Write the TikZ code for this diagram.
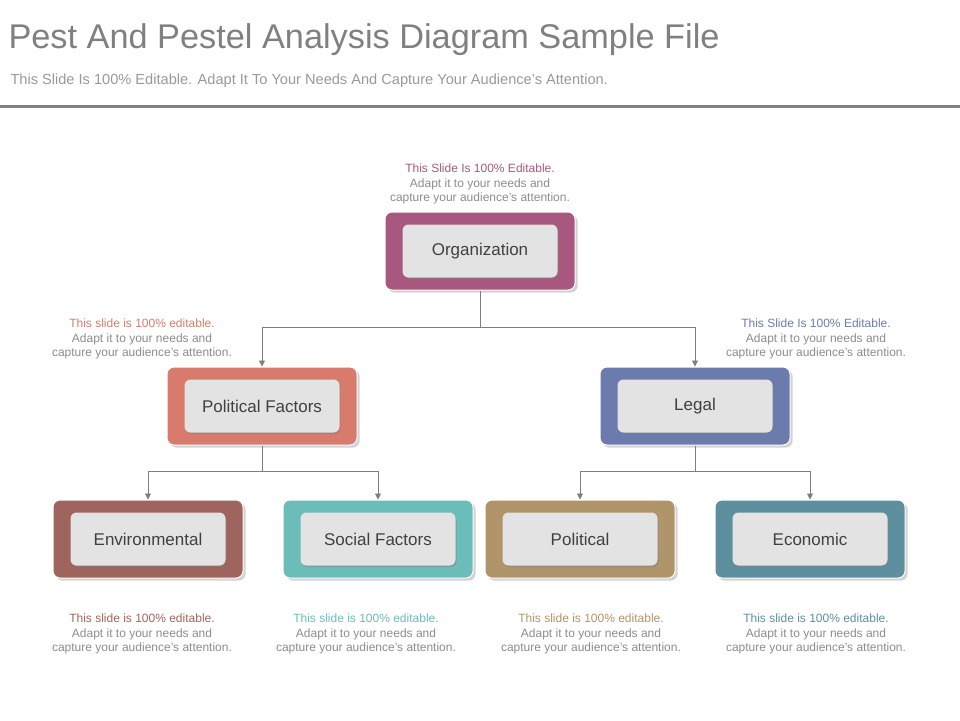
\documentclass[tikz,border=0pt]{standalone}
\usepackage{fontspec}
\setmainfont{Liberation Sans}
\usetikzlibrary{positioning,shadows,arrows.meta}
\definecolor{orgcol}{HTML}{A8577E}
\definecolor{polfcol}{HTML}{D97B6C}
\definecolor{legcol}{HTML}{6B7BAE}
\definecolor{envcol}{HTML}{A0645E}
\definecolor{soccol}{HTML}{6BBDBA}
\definecolor{polcol}{HTML}{B0946A}
\definecolor{ecocol}{HTML}{5E8F9E}
\definecolor{txtgray}{HTML}{8C8C8C}
\tikzset{
  >={Triangle[width=6pt,length=6pt]},
  line/.style={draw, txtgray!90!black, line width=0.8pt},
  arrline/.style={line, ->},
  outerbox/.style={draw=white, line width=1pt, rounded corners=7pt, fill=#1,
    minimum width=190pt, minimum height=78pt, drop shadow={opacity=0.35}},
  innerbox/.style={rounded corners=6pt, fill=gray!22, minimum width=155pt,
    minimum height=53pt, font=\fontsize{17}{20}\selectfont, text=black!75,
    drop shadow={shadow xshift=1pt,shadow yshift=-1.5pt,opacity=0.5}},
  note/.style={align=center, font=\fontsize{12}{14.5}\selectfont, text=txtgray}
}
\newcommand{\notetext}[2]{\textcolor{#1}{#2}\\Adapt it to your needs and\\capture your audience's attention.}
\begin{document}
\begin{tikzpicture}[x=1pt,y=-1pt]
  \useasboundingbox (0,0) rectangle (960,720);
  % title
  \node[anchor=west, text=gray, font=\fontsize{34.3}{40}\selectfont] (title) at (5,40) {Pest And Pestel Analysis Diagram Sample File};
  \node[anchor=west, text=gray!80, font=\fontsize{14.6}{17}\selectfont] (subtitle) at (7,81) {This Slide Is 100\% Editable. Adapt It To Your Needs And Capture Your Audience's Attention.};
  \draw[gray, line width=3pt] (0,106) -- (960,106);
  % boxes
  \node[outerbox=orgcol] (org) at (480,251) {};
  \node[innerbox] (orgin) at (org) {Organization};
  \node[outerbox=polfcol] (polf) at (262,406) {};
  \node[innerbox] (polfin) at (polf) {Political Factors};
  \node[outerbox=legcol] (leg) at (695,406) {};
  \node[innerbox] (legin) at (leg) {Legal};
  \node[outerbox=envcol] (env) at (148,539) {};
  \node[innerbox] (envin) at (env) {Environmental};
  \node[outerbox=soccol] (soc) at (378,539) {};
  \node[innerbox] (socin) at (soc) {Social Factors};
  \node[outerbox=polcol] (pol) at (580,539) {};
  \node[innerbox] (polin) at (pol) {Political};
  \node[outerbox=ecocol] (eco) at (810,539) {};
  \node[innerbox] (ecoin) at (eco) {Economic};
  % connectors
  \coordinate (orgj) at (480,327);
  \coordinate (polfj) at (262,471);
  \coordinate (legj) at (695,471);
  \draw[line] (org.south) -- (orgj);
  \draw[arrline] (orgj) -| (polf.north);
  \draw[arrline] (orgj) -| (leg.north);
  \draw[line] (polf.south) -- (polfj);
  \draw[arrline] (polfj) -| (env.north);
  \draw[arrline] (polfj) -| (soc.north);
  \draw[line] (leg.south) -- (legj);
  \draw[arrline] (legj) -| (pol.north);
  \draw[arrline] (legj) -| (eco.north);
  % notes
  \node[note] (orgnote) at (480,184) {\notetext{orgcol}{This Slide Is 100\% Editable.}};
  \node[note] (polfnote) at (142,339) {\notetext{polfcol}{This slide is 100\% editable.}};
  \node[note] (legnote) at (816,339) {\notetext{legcol}{This Slide Is 100\% Editable.}};
  \node[note] (envnote) at (142,634) {\notetext{envcol}{This slide is 100\% editable.}};
  \node[note] (socnote) at (366,634) {\notetext{soccol}{This slide is 100\% editable.}};
  \node[note] (polnote) at (591,634) {\notetext{polcol}{This slide is 100\% editable.}};
  \node[note] (econote) at (816,634) {\notetext{ecocol}{This slide is 100\% editable.}};
\end{tikzpicture}
\end{document}
